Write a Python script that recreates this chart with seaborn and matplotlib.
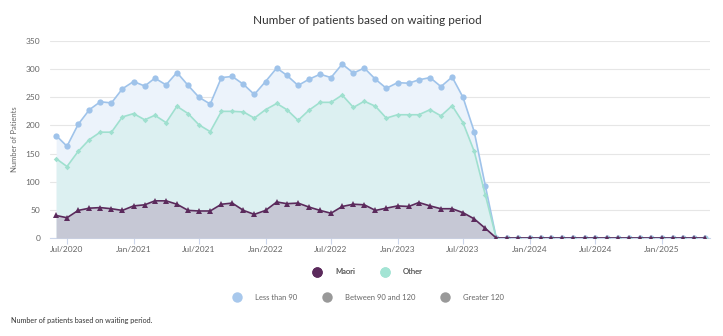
import matplotlib
matplotlib.use("Agg")
import matplotlib.pyplot as plt
import matplotlib.dates as mdates
from matplotlib.lines import Line2D
import seaborn as sns
import pandas as pd
import numpy as np

months = pd.date_range("2020-06-01", "2025-05-01", freq="MS")

total_lt90 = [182, 163, 202, 228, 242, 240, 265, 278, 270, 284, 272, 294, 271, 250, 238, 285,
              287, 273, 255, 278, 302, 289, 271, 282, 291, 285, 309, 293, 302, 282, 266, 276,
              275, 281, 285, 269, 286, 250, 189, 92] + [0] * 20
other = [141, 127, 154, 175, 188, 188, 215, 221, 210, 218, 205, 234, 221, 201, 189, 225,
         225, 224, 213, 228, 239, 228, 209, 227, 241, 241, 254, 232, 243, 234, 213, 219,
         219, 219, 228, 217, 235, 205, 154, 76] + [0] * 20
maori = [40, 36, 49, 53, 54, 52, 49, 57, 59, 66, 66, 60, 49, 48, 48, 60,
         62, 49, 42, 49, 64, 61, 62, 55, 49, 44, 56, 60, 59, 49, 53, 57,
         56, 63, 57, 52, 52, 45, 34, 17] + [0] * 20

title = "Number of patients based on waiting period"
ylabel = "Number of Patients"
footer = "Number of patients based on waiting period."
legend1 = ["Maori", "Other"]
legend2 = ["Less than 90", "Between 90 and 120", "Greater 120"]

df = pd.DataFrame({"date": months, "lt90": total_lt90, "other": other, "maori": maori})

sns.set_theme(style="white")
plt.rcParams["font.family"] = ["Lato", "DejaVu Sans"]

fig = plt.figure(figsize=(7.23, 3.36), dpi=100)
ax = fig.add_axes([50 / 723, 1 - 238 / 336, 660 / 723, 197 / 336])

c_blue, f_blue = "#9fc3ea", "#ecf3fb"
c_teal, f_teal = "#9fe0cf", "#dcf0f1"
c_purp, f_purp = "#5b2a5c", "#c6c8d5"

ax.fill_between(df["date"], df["lt90"], 0, color=f_blue, lw=0, zorder=1)
ax.fill_between(df["date"], df["other"], 0, color=f_teal, lw=0, zorder=2)
ax.fill_between(df["date"], df["maori"], 0, color=f_purp, lw=0, zorder=3)

sns.lineplot(data=df, x="date", y="lt90", ax=ax, color=c_blue, lw=1.2, marker="o",
             markersize=4.5, markeredgewidth=0, zorder=4)
sns.lineplot(data=df, x="date", y="other", ax=ax, color=c_teal, lw=1.2, marker="D",
             markersize=2.8, markeredgewidth=0, zorder=5)
sns.lineplot(data=df, x="date", y="maori", ax=ax, color=c_purp, lw=1.2, marker="^",
             markersize=4.5, markeredgewidth=0, zorder=6)

ax.set_xlim(pd.Timestamp("2020-05-15"), pd.Timestamp("2025-05-14"))
ax.set_ylim(0, 350)
ax.set_yticks(np.arange(0, 351, 50))
ax.xaxis.set_major_locator(mdates.MonthLocator(bymonth=[1, 7]))
ax.xaxis.set_major_formatter(mdates.DateFormatter("%b/%Y"))

ax.grid(axis="y", color="#e6e6e6", lw=0.8)
ax.grid(axis="x", visible=False)
for s in ["top", "right", "left"]:
    ax.spines[s].set_visible(False)
ax.spines["bottom"].set_color("#ccd6eb")
ax.spines["bottom"].set_linewidth(0.8)
ax.tick_params(axis="x", colors="#ccd6eb", labelcolor="#666666", labelsize=6,
               length=4, width=0.8, bottom=True, pad=2)
ax.tick_params(axis="y", labelcolor="#666666", labelsize=6, length=0, pad=7)
ax.set_xlabel("")
ax.set_ylabel(ylabel, fontsize=5.5, color="#666666")
ax.yaxis.set_label_coords(-(50 - 18) / 660, 0.5)

fig.text(367 / 723, 1 - 20 / 336, title, ha="center", va="center", fontsize=8.5, color="#333333")

h1 = [Line2D([], [], ls="", marker="o", markersize=7.5, markeredgewidth=0, color=c)
      for c in [c_purp, "#a3e4d4"]]
leg1 = fig.legend(h1, legend1, loc="center", bbox_to_anchor=(366 / 723, 1 - 272 / 336),
                  ncol=2, frameon=False, fontsize=5.5, handletextpad=1.36, columnspacing=2.9,
                  labelcolor="#666666")
fig.add_artist(leg1)
h2 = [Line2D([], [], ls="", marker="o", markersize=7.5, markeredgewidth=0, color=c)
      for c in ["#a8c8ec", "#999999", "#999999"]]
fig.legend(h2, legend2, loc="center", bbox_to_anchor=(367 / 723, 1 - 297 / 336),
           ncol=3, frameon=False, fontsize=5.5, handletextpad=1.36, columnspacing=2.9,
           labelcolor="#666666")

fig.text(11 / 723, 1 - 321 / 336, footer, ha="left", va="center", fontsize=5.2, color="#333333")

fig.savefig("out.png", dpi=100)
